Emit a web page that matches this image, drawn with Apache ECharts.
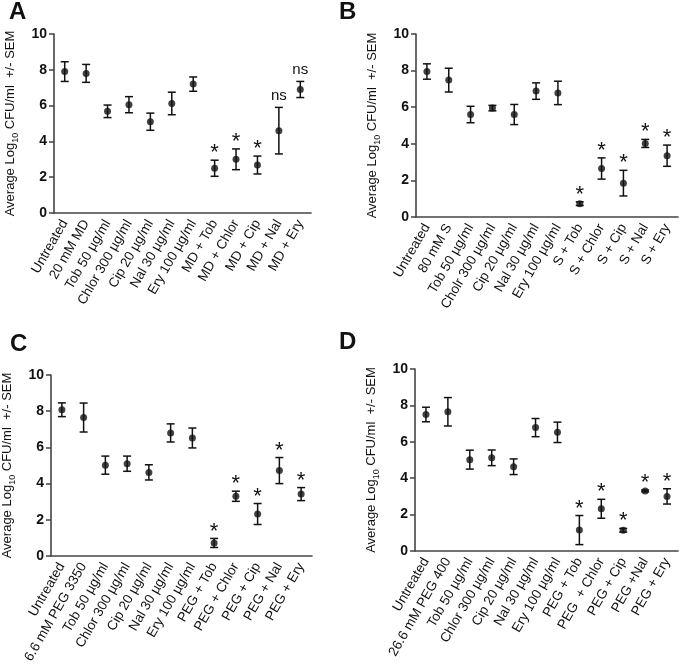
<!DOCTYPE html>
<html>
<head>
<meta charset="utf-8">
<script src="https://cdn.jsdelivr.net/npm/echarts@6/dist/echarts.min.js"></script>
<style>
html,body{margin:0;padding:0;background:#fff;}
#c{width:679px;height:665px;}
</style>
</head>
<body>
<div id="c"></div>
<script>
// ---------- data ----------
const catsA = ['Untreated','20 mM MD','Tob 50 µg/ml','Chlor 300 µg/ml','Cip 20 µg/ml','Nal 30 µg/ml','Ery 100 µg/ml','MD + Tob','MD + Chlor','MD + Cip','MD + Nal','MD + Ery'];
const meanA = [7.9, 7.8, 5.68, 6.05, 5.1, 6.12, 7.2, 2.5, 3.0, 2.68, 4.6, 6.9];
const semA  = [0.55, 0.5, 0.35, 0.45, 0.48, 0.63, 0.4, 0.45, 0.58, 0.5, 1.3, 0.45];
const annA  = ['','','','','','','','*','*','*','ns','ns'];

const catsB = ['Untreated','80 mM S','Tob 50 µg/ml','Cholr 300 µg/ml','Cip 20 µg/ml','Nal 30 µg/ml','Ery 100 µg/ml','S + Tob','S + Chlor','S + Cip','S + Nal','S + Ery'];
const meanB = [7.95, 7.48, 5.6, 5.95, 5.6, 6.88, 6.78, 0.73, 2.65, 1.85, 4.02, 3.35];
const semB  = [0.42, 0.65, 0.45, 0.15, 0.55, 0.45, 0.64, 0.1, 0.58, 0.7, 0.22, 0.58];
const annB  = ['','','','','','','','*','*','*','*','*'];

const catsC = ['Untreated','6.6 mM PEG 3350','Tob 50 µg/ml','Chlor 300 µg/ml','Cip 20 µg/ml','Nal 30 µg/ml','Ery 100 µg/ml','PEG + Tob','PEG + Chlor','PEG + Cip','PEG + Nal','PEG + Ery'];
const meanC = [8.08, 7.65, 5.02, 5.1, 4.62, 6.8, 6.52, 0.72, 3.3, 2.32, 4.72, 3.42];
const semC  = [0.38, 0.8, 0.5, 0.42, 0.42, 0.5, 0.55, 0.25, 0.28, 0.58, 0.72, 0.36];
const annC  = ['','','','','','','','*','*','*','*','*'];

const catsD = ['Untreated','26.6 mM PEG 400','Tob 50 µg/ml','Chlor 300 µg/ml','Cip 20 µg/ml','Nal 30 µg/ml','Ery 100 µg/ml','PEG + Tob','PEG  + Chlor','PEG + Cip','PEG +Nal','PEG + Ery'];
const meanD = [7.5, 7.65, 5.02, 5.12, 4.63, 6.78, 6.52, 1.15, 2.32, 1.14, 3.3, 3.0];
const semD  = [0.4, 0.78, 0.52, 0.43, 0.43, 0.5, 0.56, 0.8, 0.52, 0.1, 0.05, 0.42];
const annD  = ['','','','','','','','*','*','*','*','*'];

const panelLetters = ['A','B','C','D'];
const yTitle = 'Average Log{sub|10} CFU/ml  +/- SEM';
const yMin = 0, yMax = 10, yStep = 2;

// ---------- chart ----------
const FONT = '"Liberation Sans", Arial, Helvetica, sans-serif';
const panels = [
  {cats: catsA, mean: meanA, sem: semA, ann: annA, grid: {left: 54, top: 34, width: 257, height: 179}, letter: [19, 12]},
  {cats: catsB, mean: meanB, sem: semB, ann: annB, grid: {left: 416, top: 34, width: 262, height: 183}, letter: [349, 12]},
  {cats: catsC, mean: meanC, sem: semC, ann: annC, grid: {left: 51, top: 375, width: 261, height: 181}, letter: [20, 344]},
  {cats: catsD, mean: meanD, sem: semD, ann: annD, grid: {left: 415, top: 369, width: 263, height: 182}, letter: [349, 342]}
];

const grids = [], xAxes = [], yAxes = [], series = [], graphics = [];
panels.forEach((p, k) => {
  grids.push(Object.assign({outerBoundsMode: 'none', containLabel: false}, p.grid));
  xAxes.push({
    type: 'category', gridIndex: k, data: p.cats, boundaryGap: true,
    axisLine: {lineStyle: {color: '#444', width: 1.6}},
    axisTick: {alignWithLabel: true, length: 5, lineStyle: {color: '#444', width: 1.5}},
    axisLabel: {interval: 0, rotate: 60, fontSize: 13.5, color: '#111', fontFamily: FONT, margin: 8},
    splitLine: {show: false}
  });
  yAxes.push({
    type: 'value', gridIndex: k, min: yMin, max: yMax, interval: yStep,
    axisLine: {show: true, lineStyle: {color: '#444', width: 1.6}},
    axisTick: {show: true, length: 5, lineStyle: {color: '#444', width: 1.5}},
    axisLabel: {fontSize: 14, fontWeight: 'bold', color: '#111', fontFamily: FONT, margin: 7},
    splitLine: {show: false},
    name: yTitle, nameLocation: 'middle', nameRotate: 90, nameGap: 34,
    nameTextStyle: {
      fontSize: 13, color: '#111', fontFamily: FONT, lineHeight: 20,
      rich: {sub: {fontSize: 9, lineHeight: 9, verticalAlign: 'bottom', color: '#111', fontFamily: FONT}}
    }
  });
  const pts = p.mean.map((m, i) => [i, m]);
  series.push({
    type: 'scatter', xAxisIndex: k, yAxisIndex: k, data: pts,
    symbol: 'circle', symbolSize: 7, itemStyle: {color: '#111'}, z: 5, silent: true
  });
  const eb = p.mean.map((m, i) => [i, m, p.sem[i]]);
  const ann = p.ann;
  series.push({
    type: 'custom', xAxisIndex: k, yAxisIndex: k, data: eb, z: 4, silent: true,
    renderItem: function (params, api) {
      const i = api.value(0), m = api.value(1), e = api.value(2);
      const hi = api.coord([i, m + e]);
      const lo = api.coord([i, m - e]);
      const cw = 4;
      const st = {stroke: '#111', lineWidth: 1.5};
      const children = [
        {type: 'line', shape: {x1: hi[0], y1: hi[1], x2: lo[0], y2: lo[1]}, style: st},
        {type: 'line', shape: {x1: hi[0] - cw, y1: hi[1], x2: hi[0] + cw, y2: hi[1]}, style: st},
        {type: 'line', shape: {x1: lo[0] - cw, y1: lo[1], x2: lo[0] + cw, y2: lo[1]}, style: st}
      ];
      const a = ann[params.dataIndex];
      if (a === '*') {
        children.push({type: 'text', style: {text: '*', x: hi[0], y: hi[1] - 7, font: '22px ' + FONT, fill: '#111', align: 'center', verticalAlign: 'middle'}});
      } else if (a) {
        children.push({type: 'text', style: {text: a, x: hi[0], y: hi[1] - 12, font: '15px ' + FONT, fill: '#111', align: 'center', verticalAlign: 'middle'}});
      }
      return {type: 'group', children: children};
    }
  });
  graphics.push({
    type: 'text', left: p.letter[0] - 10, top: p.letter[1] - 12,
    style: {text: panelLetters[k], font: 'bold 24px ' + FONT, fill: '#111'}
  });
});

const chart = echarts.init(document.getElementById('c'), null, {renderer: 'canvas'});
chart.setOption({
  animation: false,
  backgroundColor: '#fff',
  grid: grids, xAxis: xAxes, yAxis: yAxes, series: series, graphic: graphics
});
</script>
</body>
</html>
